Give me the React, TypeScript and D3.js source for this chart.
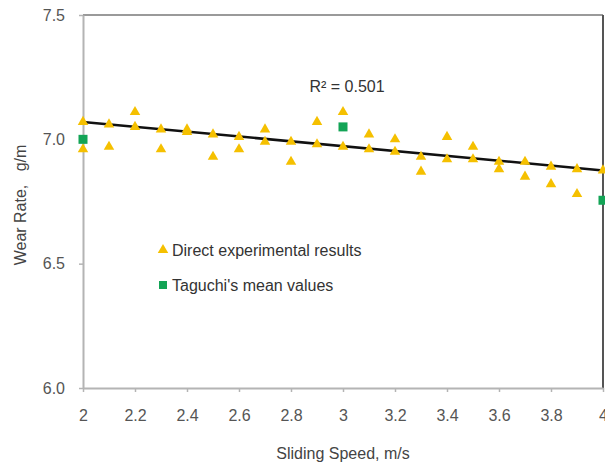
import React, { useEffect, useRef } from 'react';
import * as d3 from 'd3';

const width = 605;
const height = 465;
const margin = { top: 15, right: 2, bottom: 77, left: 83 };

// direct experimental results (sliding speed m/s, wear rate g/m)
const expSpeed = [2, 2, 2.1, 2.1, 2.2, 2.2, 2.3, 2.3, 2.4, 2.4, 2.5, 2.5, 2.6, 2.6, 2.7, 2.7, 2.8, 2.8, 2.9, 2.9, 3, 3, 3.1, 3.1, 3.2, 3.2, 3.3, 3.3, 3.4, 3.4, 3.5, 3.5, 3.6, 3.6, 3.7, 3.7, 3.8, 3.8, 3.9, 3.9, 4];
const expWear = [7.07, 6.96, 7.06, 6.97, 7.11, 7.05, 7.04, 6.96, 7.04, 7.03, 7.02, 6.93, 7.01, 6.96, 7.04, 6.99, 6.99, 6.91, 7.07, 6.98, 7.11, 6.97, 7.02, 6.96, 7.0, 6.95, 6.93, 6.87, 7.01, 6.92, 6.97, 6.92, 6.91, 6.88, 6.91, 6.85, 6.89, 6.82, 6.88, 6.78, 6.875];

// Taguchi's mean values
const tagSpeed = [2, 3, 4];
const tagWear = [7.0, 7.05, 6.755];

// linear trend line end points
const trendSpeed = [2, 4];
const trendWear = [7.07, 6.875];

const yTicks = [6.0, 6.5, 7.0, 7.5];
const xTicks = [2, 2.2, 2.4, 2.6, 2.8, 3, 3.2, 3.4, 3.6, 3.8, 4];
const legendLabels = ['Direct experimental results', "Taguchi's mean values"];

const FONT = '"Liberation Sans", Arial, sans-serif';
const GOLD = '#f5c000';
const GREEN = '#13a456';

export default function App() {
  const ref = useRef<SVGSVGElement>(null);

  useEffect(() => {
    const svg = d3.select(ref.current);
    svg.selectAll('*').remove();

    const x = d3.scaleLinear().domain([2, 4]).range([margin.left, width - margin.right]);
    const y = d3.scaleLinear().domain([6, 7.5]).range([height - margin.bottom, margin.top]);

    // plot frame (top and right)
    svg.append('line')
      .attr('x1', x(2)).attr('x2', x(4)).attr('y1', y(7.5)).attr('y2', y(7.5))
      .attr('stroke', '#9a9a9a').attr('stroke-width', 2);
    svg.append('line')
      .attr('x1', x(4)).attr('x2', x(4)).attr('y1', y(7.5)).attr('y2', y(6))
      .attr('stroke', '#555').attr('stroke-width', 2);

    // axes
    const xAxis = svg.append('g')
      .attr('transform', `translate(0, ${y(6)})`)
      .call(d3.axisBottom(x).tickValues(xTicks).tickFormat(d3.format('~g')).tickSize(4).tickSizeOuter(0).tickPadding(18));
    const yAxis = svg.append('g')
      .attr('transform', `translate(${x(2)}, 0)`)
      .call(d3.axisLeft(y).tickValues(yTicks).tickFormat(d3.format('.1f')).tickSize(4).tickSizeOuter(0).tickPadding(14));

    [xAxis, yAxis].forEach(g => {
      g.select('.domain').attr('stroke', '#b4b4b4').attr('stroke-width', 2);
      g.selectAll('.tick line').attr('stroke', '#b4b4b4').attr('stroke-width', 1.5);
      g.selectAll('.tick text').attr('fill', '#555').style('font-family', FONT).style('font-size', '16px');
    });

    // trend line
    const line = d3.line<number>().x((d, i) => x(d)).y((d, i) => y(trendWear[i]));
    svg.append('path')
      .attr('d', line(trendSpeed))
      .attr('fill', 'none')
      .attr('stroke', '#111')
      .attr('stroke-width', 2.5);

    // experimental points
    const tri = d3.symbol().type(d3.symbolTriangle).size(48);
    svg.append('g').selectAll('path')
      .data(expSpeed)
      .enter().append('path')
      .attr('d', tri)
      .attr('transform', (d, i) => `translate(${x(d)}, ${y(expWear[i])})`)
      .attr('fill', GOLD);

    // Taguchi points
    svg.append('g').selectAll('rect')
      .data(tagSpeed)
      .enter().append('rect')
      .attr('x', d => x(d) - 4.5)
      .attr('y', (d, i) => y(tagWear[i]) - 4.5)
      .attr('width', 9).attr('height', 9)
      .attr('fill', GREEN);

    // R squared label
    svg.append('text')
      .attr('x', 347).attr('y', 86)
      .attr('text-anchor', 'middle').attr('dominant-baseline', 'central')
      .attr('fill', '#333').style('font-family', FONT).style('font-size', '16px')
      .text('R² = 0.501');

    // legend
    const legend = svg.append('g').attr('transform', 'translate(163, 250)');
    legend.append('path').attr('d', tri).attr('fill', GOLD);
    legend.append('rect').attr('x', -4).attr('y', 31).attr('width', 8).attr('height', 8).attr('fill', GREEN);
    legend.selectAll('text')
      .data(legendLabels)
      .enter().append('text')
      .attr('x', 9).attr('y', (d, i) => i * 35)
      .attr('dominant-baseline', 'central')
      .attr('fill', '#333').style('font-family', FONT).style('font-size', '16px')
      .text(d => d);

    // axis titles
    svg.append('text')
      .attr('x', (x(2) + x(4)) / 2).attr('y', 453)
      .attr('text-anchor', 'middle').attr('dominant-baseline', 'central')
      .attr('fill', '#444').style('font-family', FONT).style('font-size', '16px')
      .text('Sliding Speed, m/s');
    svg.append('text')
      .attr('transform', `translate(20, ${205}) rotate(-90)`)
      .attr('text-anchor', 'middle').attr('dominant-baseline', 'central')
      .attr('fill', '#444').style('font-family', FONT).style('font-size', '16px')
      .style('white-space', 'pre')
      .text('Wear Rate,   g/m');
  }, []);

  return (
    <div style={{ position: 'absolute', left: 0, top: 0 }}>
      <svg ref={ref} width={width} height={height} style={{ display: 'block', background: '#fff' }} />
    </div>
  );
}
